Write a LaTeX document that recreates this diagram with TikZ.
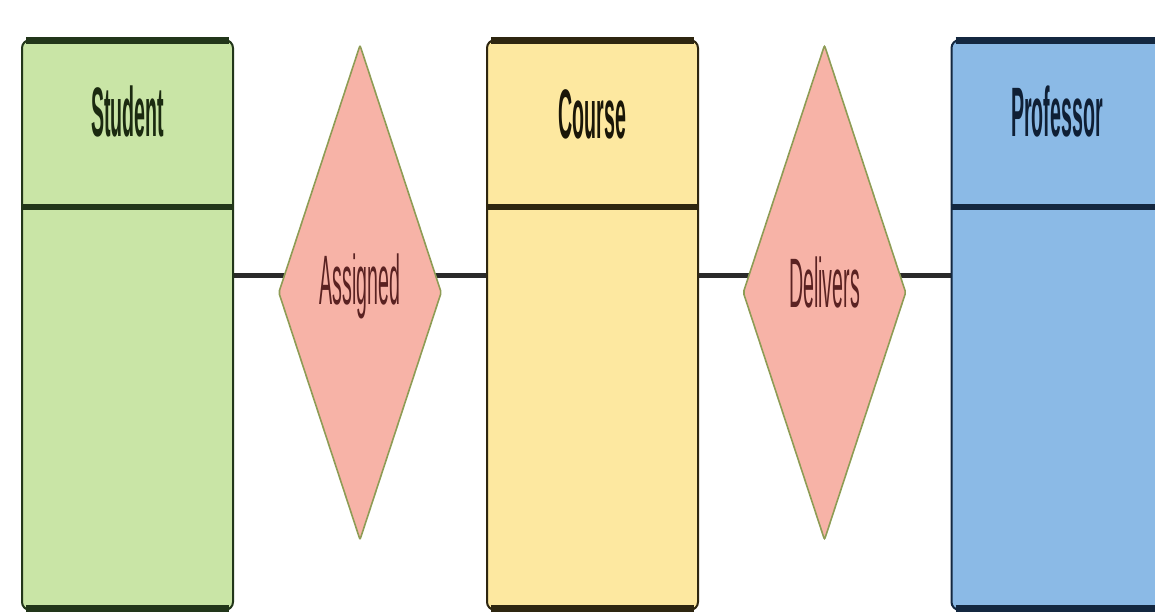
\documentclass[tikz,border=0pt]{standalone}
\usepackage{graphicx}
\usepackage{fontspec}
\setmainfont{Liberation Sans}
\usetikzlibrary{shapes.geometric,backgrounds,calc}
\definecolor{sfill}{HTML}{C9E5A6}
\definecolor{sdark}{HTML}{22361A}
\definecolor{stext}{HTML}{1B2A10}
\definecolor{cfill}{HTML}{FDE8A0}
\definecolor{cdark}{HTML}{2E2610}
\definecolor{ctext}{HTML}{1A1608}
\definecolor{pfill}{HTML}{8BBAE6}
\definecolor{pdark}{HTML}{142840}
\definecolor{ptext}{HTML}{0F1F35}
\definecolor{rfill}{HTML}{F7B3A7}
\definecolor{rdark}{HTML}{8E9C55}
\definecolor{rtext}{HTML}{5A2222}
\definecolor{conncol}{HTML}{2A2A2A}
\newcommand{\ertxt}[1]{\scalebox{0.28}[1]{#1}}
\tikzset{
  entity/.style={rectangle, rounded corners=8pt, line width=2pt, minimum width=211pt, minimum height=570pt, inner sep=0pt},
  band/.style={line width=7pt},
  divider/.style={line width=6pt},
  etext/.style={anchor=base, inner sep=0pt, font=\bfseries\fontsize{70}{72}\selectfont},
  rel/.style={diamond, fill=rfill, draw=rdark, line width=1.6pt, minimum width=163pt, minimum height=495pt, inner sep=0pt, rounded corners=2pt},
  rtxt/.style={anchor=base, inner sep=0pt, text=rtext, font=\fontsize{70}{72}\selectfont},
  conn/.style={draw=conncol, line width=5pt}
}
\begin{document}
\begin{tikzpicture}[x=1pt,y=-1pt]
\useasboundingbox (0,0) rectangle (1155,615);
% entities
\node[entity, fill=sfill, draw=sdark] (s) at (127.5,325) {};
\node[entity, fill=cfill, draw=cdark] (c) at (592.5,325) {};
\node[entity, fill=pfill, draw=pdark] (p) at (1057,325) {};
\foreach \n/\col in {s/sdark,c/cdark,p/pdark}{
  \draw[band, draw=\col] ([xshift=5pt,yshift=-2pt]\n.north west) -- ([xshift=-5pt,yshift=-2pt]\n.north east);
  \draw[divider, draw=\col] ([yshift=-168pt]\n.north west) -- ([yshift=-168pt]\n.north east);
  \draw[band, draw=\col] ([xshift=5pt,yshift=3pt]\n.south west) -- ([xshift=-5pt,yshift=3pt]\n.south east);
}
\node[etext, text=stext] (st) at ([yshift=-97pt]s.north) {\ertxt{Student}};
\node[etext, text=ctext] (ct) at ([yshift=-99pt]c.north) {\ertxt{Course}};
\node[etext, text=ptext] (pt) at ([yshift=-97pt]p.north) {\ertxt{Professor}};
% relationships
\node[rel] (a) at (360,292.5) {};
\node[rel] (d) at (824.5,292.5) {};
\node[rtxt] (at) at ([yshift=-12pt]a.center) {\ertxt{Assigned}};
\node[rtxt] (dt) at ([yshift=-15pt]d.center) {\ertxt{Delivers}};
% connectors
\coordinate (row) at (0,275);
\begin{pgfonlayer}{background}
\draw[conn] (s.east |- row) -- (a.center |- row) -- (c.west |- row);
\draw[conn] (c.east |- row) -- (d.center |- row) -- (p.west |- row);
\end{pgfonlayer}
\end{tikzpicture}
\end{document}
